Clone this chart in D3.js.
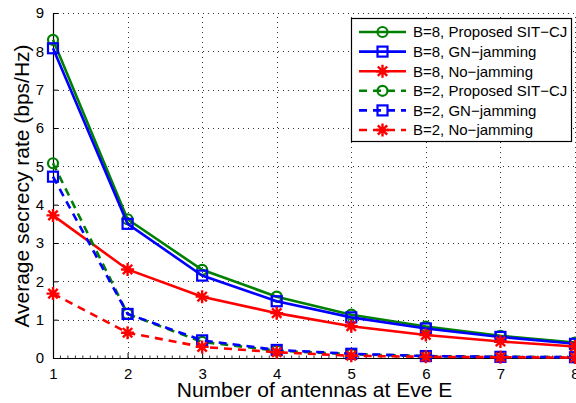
<!DOCTYPE html>
<html><head><meta charset="utf-8">
<script src="https://cdn.jsdelivr.net/npm/d3@7"></script>
<style>html,body{margin:0;padding:0;background:#fff;}svg{display:block;font-family:"Liberation Sans",Arial,sans-serif;}</style>
</head><body><svg id="c" width="576" height="403"></svg>
<script>
const antennas = [1, 2, 3, 4, 5, 6, 7, 8];
const b8SIT = [8.30, 3.62, 2.30, 1.60, 1.13, 0.82, 0.58, 0.40];
const b8GN  = [8.08, 3.50, 2.15, 1.48, 1.06, 0.77, 0.55, 0.37];
const b8No  = [3.72, 2.31, 1.60, 1.17, 0.83, 0.60, 0.43, 0.30];
const b2SIT = [5.08, 1.15, 0.42, 0.19, 0.10, 0.05, 0.03, 0.02];
const b2GN  = [4.73, 1.15, 0.46, 0.21, 0.11, 0.05, 0.03, 0.02];
const b2No  = [1.68, 0.66, 0.29, 0.15, 0.06, 0.03, 0.02, 0.01];
const yTicks = [0,1,2,3,4,5,6,7,8,9];
const xTicks = [1,2,3,4,5,6,7,8];
const seriesNames = ["B=8, Proposed SIT\u2212CJ","B=8, GN\u2212jamming","B=8, No\u2212jamming",
                     "B=2, Proposed SIT\u2212CJ","B=2, GN\u2212jamming","B=2, No\u2212jamming"];

const series = [
  {name: seriesNames[0], values: b8SIT, color: "#008000", marker: "circle", dashed: false},
  {name: seriesNames[1], values: b8GN,  color: "#0000ff", marker: "square", dashed: false},
  {name: seriesNames[2], values: b8No,  color: "#ff0000", marker: "star",   dashed: false},
  {name: seriesNames[3], values: b2SIT, color: "#008000", marker: "circle", dashed: true},
  {name: seriesNames[4], values: b2GN,  color: "#0000ff", marker: "square", dashed: true},
  {name: seriesNames[5], values: b2No,  color: "#ff0000", marker: "star",   dashed: true}
];

const svg = d3.select("#c");
const x = d3.scaleLinear().domain([1, 8]).range([53, 575]);
const y = d3.scaleLinear().domain([0, 9]).range([358, 13]);

// grid
const grid = svg.append("g").attr("stroke", "#333").attr("stroke-width", 1).attr("stroke-dasharray", "1,4");
grid.selectAll(".gy").data(yTicks.filter(d => d > 0)).join("line")
  .attr("x1", x(1)).attr("x2", x(8)).attr("y1", d => Math.round(y(d)) + 0.5).attr("y2", d => Math.round(y(d)) + 0.5);
grid.selectAll(".gx").data(xTicks.filter(d => d > 1)).join("line")
  .attr("y1", y(0)).attr("y2", y(9)).attr("x1", d => Math.round(x(d)) + 0.5).attr("x2", d => Math.round(x(d)) + 0.5);

// axes
const xAxis = d3.axisBottom(x).tickValues(xTicks).tickFormat(d3.format("d")).tickSizeInner(-5).tickSizeOuter(0).tickPadding(10);
const yAxis = d3.axisLeft(y).tickValues(yTicks).tickFormat(d3.format("d")).tickSizeInner(-5).tickSizeOuter(0).tickPadding(9);
const gx = svg.append("g").attr("transform", `translate(0,${y(0)})`).call(xAxis);
const gy = svg.append("g").attr("transform", `translate(${x(1)},0)`).call(yAxis);
[gx, gy].forEach(g => {
  g.select(".domain").attr("stroke", "#000").attr("stroke-width", 1.2);
  g.selectAll("line").attr("stroke", "#000");
  g.selectAll("text").attr("font-size", 15).attr("fill", "#000").attr("font-family", "Liberation Sans, Arial, sans-serif");
});
// minor x ticks
const minor = d3.range(1, 8.001, 0.1).filter(v => Math.abs(v - Math.round(v)) > 0.01);
svg.append("g").selectAll("line").data(minor).join("line")
  .attr("x1", d => x(d)).attr("x2", d => x(d)).attr("y1", y(0)).attr("y2", y(0) - 2.5)
  .attr("stroke", "#000").attr("stroke-width", 0.8);

// labels
svg.append("text").attr("x", (x(1) + x(8)) / 2 + 0.5).attr("y", 397).attr("text-anchor", "middle")
  .attr("font-size", 21).text("Number of antennas at Eve E");
svg.append("text").attr("transform", "translate(29,186) rotate(-90)").attr("text-anchor", "middle")
  .attr("font-size", 21).text("Average secrecy rate (bps/Hz)");

const line = d3.line().x((d, i) => x(antennas[i])).y(d => y(d));

function drawMarker(g, type, cx, cy, color) {
  if (type === "circle") {
    g.append("circle").attr("cx", cx).attr("cy", cy).attr("r", 5).attr("fill", "none")
      .attr("stroke", color).attr("stroke-width", 2.2);
  } else if (type === "square") {
    g.append("rect").attr("x", cx - 5).attr("y", cy - 5).attr("width", 10).attr("height", 10).attr("fill", "none")
      .attr("stroke", color).attr("stroke-width", 2.2);
  } else {
    const r = 6.5, rd = r * 0.72;
    const p = `M${cx - r},${cy}L${cx + r},${cy}M${cx},${cy - r}L${cx},${cy + r}` +
      `M${cx - rd},${cy - rd}L${cx + rd},${cy + rd}M${cx - rd},${cy + rd}L${cx + rd},${cy - rd}`;
    g.append("path").attr("d", p).attr("stroke", color).attr("stroke-width", 2.4).attr("fill", "none");
  }
}

const plot = svg.append("g");
series.forEach(s => {
  const g = plot.append("g");
  g.append("path").datum(s.values).attr("d", line).attr("fill", "none")
    .attr("stroke", s.color).attr("stroke-width", 2.6)
    .attr("stroke-dasharray", s.dashed ? "8,6" : null);
  s.values.forEach((v, i) => drawMarker(g, s.marker, x(antennas[i]), y(v), s.color));
});

// legend
const lg = svg.append("g");
lg.append("rect").attr("x", 351.5).attr("y", 18.5).attr("width", 220).attr("height", 123)
  .attr("fill", "#fff").attr("stroke", "#000").attr("stroke-width", 1.2);
series.forEach((s, i) => {
  const cy = 32 + i * 19.6;
  lg.append("line").attr("x1", 359).attr("x2", 406).attr("y1", cy).attr("y2", cy)
    .attr("stroke", s.color).attr("stroke-width", 2.6).attr("stroke-dasharray", s.dashed ? "8,6" : null);
  drawMarker(lg, s.marker, 382.5, cy, s.color);
  lg.append("text").attr("x", 413).attr("y", cy + 5.3).attr("font-size", 15).text(s.name);
});
</script></body></html>
